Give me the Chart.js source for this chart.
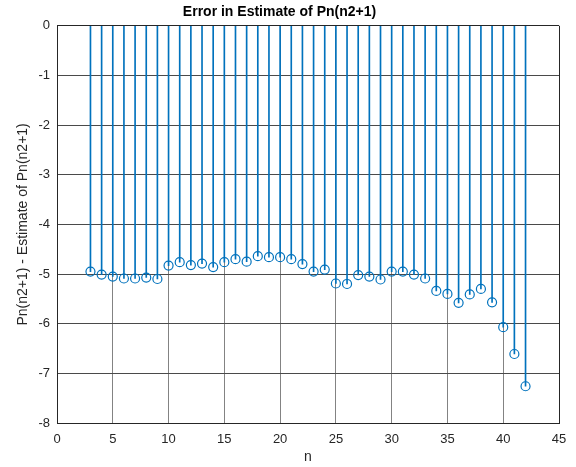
<!DOCTYPE html>
<html lang="en">
<head>
<meta charset="utf-8">
<title>Error in Estimate of Pn(n2+1)</title>
<script src="https://cdn.jsdelivr.net/npm/chart.js@4.4.0/dist/chart.umd.min.js"></script>
<style>
    html, body { margin: 0; padding: 0; background: #fff; }
</style>
</head>
<body>
<canvas id="stem-chart" width="576" height="467"></canvas>
<script>
    // n values and the error at each n
    const nValues = [3, 4, 5, 6, 7, 8, 9, 10, 11, 12, 13, 14, 15, 16, 17, 18, 19, 20, 21, 22,
        23, 24, 25, 26, 27, 28, 29, 30, 31, 32, 33, 34, 35, 36, 37, 38, 39, 40, 41, 42];
    const errValues = [-4.95, -5.01, -5.05, -5.09, -5.09, -5.07, -5.10, -4.83, -4.76, -4.82,
        -4.79, -4.86, -4.76, -4.70, -4.75, -4.64, -4.66, -4.66, -4.70, -4.80,
        -4.95, -4.91, -5.19, -5.20, -5.02, -5.05, -5.11, -4.95, -4.95, -5.01,
        -5.09, -5.34, -5.40, -5.58, -5.41, -5.30, -5.57, -6.07, -6.61, -7.26];
    const xTicks = [0, 5, 10, 15, 20, 25, 30, 35, 40, 45];
    const yTicks = [0, -1, -2, -3, -4, -5, -6, -7, -8];

    const stemColor = '#0072BD';
    const axisColor = '#262626';
    const font = 'Arial, "Liberation Sans", sans-serif';

    let stems = nValues.map((n, i) => ({x: n, y: [0, errValues[i]]}));
    let heads = nValues.map((n, i) => ({x: n, y: errValues[i]}));

    new Chart(document.getElementById('stem-chart'), {
        data: {
            datasets: [{
                type: 'scatter',
                data: heads,
                pointStyle: 'circle',
                pointRadius: 4.5,
                pointBorderWidth: 1.2,
                pointBorderColor: stemColor,
                pointBackgroundColor: 'rgba(0,0,0,0)',
                order: 0
            }, {
                type: 'bar',
                data: stems,
                backgroundColor: stemColor,
                borderWidth: 0,
                barThickness: 1,
                order: 1
            }]
        },
        options: {
            responsive: false,
            animation: false,
            devicePixelRatio: 1,
            layout: {padding: {left: 0, right: 17, top: 0, bottom: 0}},
            plugins: {
                legend: {display: false},
                tooltip: {enabled: false},
                title: {
                    display: true,
                    text: 'Error in Estimate of Pn(n2+1)',
                    color: '#000',
                    font: {family: font, size: 14, weight: 'bold'},
                    padding: {top: 4, bottom: 5}
                }
            },
            scales: {
                x: {
                    type: 'linear',
                    min: 0,
                    max: 45,
                    offset: false,
                    afterBuildTicks: s => { s.ticks = xTicks.map(v => ({value: v})); },
                    afterFit: s => { s.height = 44; },
                    ticks: {
                        color: axisColor,
                        font: {family: font, size: 13},
                        padding: 9,
                        maxRotation: 0
                    },
                    grid: {
                        offset: false,
                        drawTicks: false,
                        color: c => c.tick && c.tick.value === 45 ? axisColor : 'rgba(90,90,90,0.75)',
                        lineWidth: 1
                    },
                    border: {color: axisColor},
                    title: {
                        display: true,
                        text: 'n',
                        color: axisColor,
                        font: {family: font, size: 14},
                        padding: {top: 0, bottom: 1}
                    }
                },
                y: {
                    type: 'linear',
                    min: -8,
                    max: 0,
                    afterBuildTicks: s => { s.ticks = yTicks.map(v => ({value: v})); },
                    afterFit: s => { s.width = 57; },
                    ticks: {
                        color: axisColor,
                        font: {family: font, size: 13},
                        padding: 7
                    },
                    grid: {
                        drawTicks: false,
                        color: c => c.tick && c.tick.value === 0 ? axisColor : '#4a4a4a',
                        lineWidth: 1
                    },
                    border: {color: axisColor},
                    title: {
                        display: true,
                        text: 'Pn(n2+1) - Estimate of Pn(n2+1)',
                        color: axisColor,
                        font: {family: font, size: 14},
                        padding: {top: 15, bottom: 0}
                    }
                }
            }
        }
    });
</script>
</body>
</html>
